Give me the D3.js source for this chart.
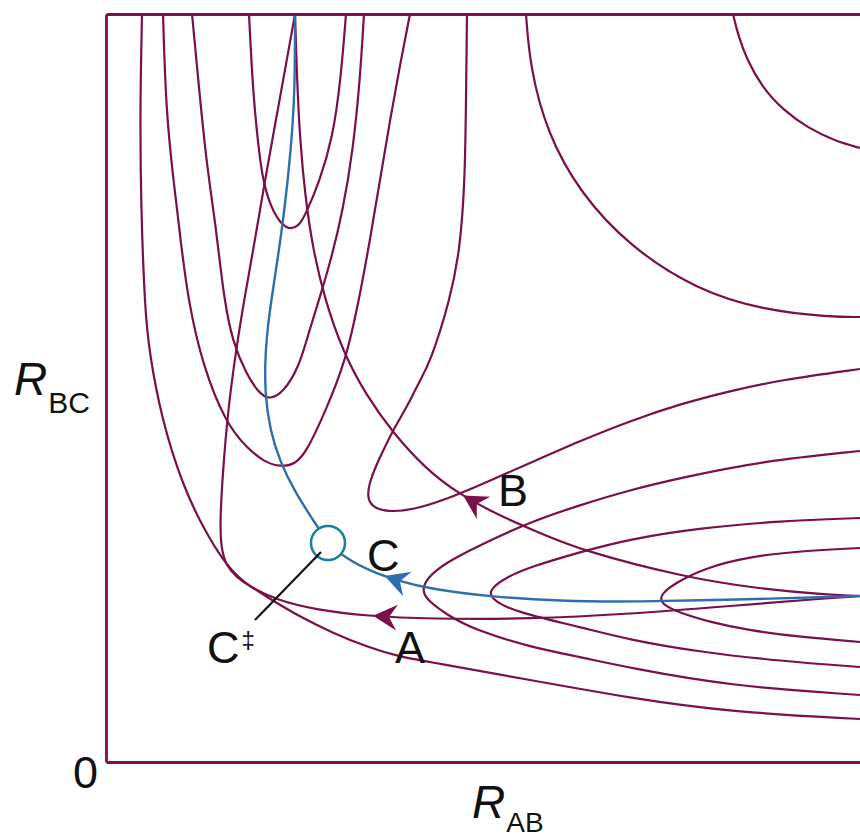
<!DOCTYPE html>
<html><head><meta charset="utf-8">
<script src="https://cdn.jsdelivr.net/npm/d3@7"></script>
<style>
html,body{margin:0;padding:0;background:#fff;}
svg{display:block;}
text{font-family:"Liberation Sans",Arial,Helvetica,sans-serif;fill:#111;}
</style></head><body>
<svg id="chart" width="860" height="840"></svg>
<script>
// ---- data: points [R_AB, R_BC] (arbitrary units) ----
const contourOuter = [[3.6,74.8],[3.4,65.2],[3.5,55.2],[3.9,45.2],[4.3,41.2],[5.5,34.5],[7.7,27.5],[10.0,22.9],[11.7,20.2],[13.4,18.2],[16.1,16.5],[19.4,14.5],[22.7,12.9],[26.1,11.5],[29.4,10.5],[32.4,10.0],[42.4,8.2],[52.4,6.4],[62.4,5.0],[75.4,4.3]];
const contourSaddle = [[36.1,74.8],[36.0,66.2],[35.9,58.2],[35.4,51.2],[34.4,46.2],[32.4,39.9],[31.4,38.2],[30.1,35.5],[28.7,33.2],[27.4,30.5],[26.4,28.2],[26.1,26.5],[26.6,25.5],[28.1,25.0],[30.7,25.2],[34.1,26.3],[37.4,27.7],[42.4,29.9],[47.4,32.1],[52.4,34.1],[57.4,35.8],[62.4,37.1],[67.4,38.2],[75.4,39.3]];
const contourU1 = [[14.3,74.8],[14.7,66.9],[15.2,61.9],[15.7,57.9],[16.7,54.9],[18.0,53.2],[19.3,53.5],[20.0,54.9],[21.3,57.9],[22.7,62.5],[23.5,68.5],[24.0,74.8]];
const contourU2 = [[8.6,74.8],[9.2,68.5],[10.0,60.2],[11.0,53.5],[11.8,46.2],[12.7,41.9],[14.0,38.9],[15.2,37.0],[16.3,36.2],[17.7,36.9],[19.3,39.5],[20.2,42.7],[21.3,46.2],[22.5,50.2],[23.7,55.2],[24.7,61.2],[25.4,68.2],[25.8,74.8]];
const contourU3 = [[5.7,74.8],[6.0,65.2],[6.7,58.5],[7.5,51.9],[8.2,46.2],[9.7,39.5],[12.0,33.9],[14.0,31.5],[15.8,30.0],[17.5,29.5],[18.9,29.8],[20.0,30.9],[22.0,35.2],[24.0,40.2],[25.3,46.2],[26.4,52.2],[27.4,58.2],[28.4,64.2],[29.4,69.7],[30.4,74.8]];
const contourExit3 = [[75.4,31.1],[65.7,30.1],[57.4,28.4],[52.4,27.2],[47.4,25.7],[42.4,24.0],[37.4,21.7],[33.9,19.9],[32.1,18.4],[31.6,17.2],[32.1,16.2],[34.1,14.7],[36.9,13.2],[42.4,11.5],[47.4,10.5],[52.4,9.4],[62.4,7.6],[75.4,6.7]];
const contourExit2 = [[75.4,24.4],[67.4,24.1],[59.4,23.4],[52.4,22.3],[47.4,21.0],[42.4,19.5],[39.9,18.4],[38.7,17.5],[38.3,16.8],[39.1,15.9],[41.4,14.9],[47.4,13.5],[52.4,12.2],[59.4,11.0],[67.4,10.1],[75.4,9.5]];
const contourExit1 = [[75.4,21.4],[69.4,21.1],[64.1,20.5],[59.9,19.4],[56.9,17.9],[55.4,16.7],[55.5,15.8],[57.4,14.9],[60.4,14.0],[64.1,13.2],[69.4,12.5],[75.4,12.0]];
const contourPlateau1 = [[42.0,74.8],[42.4,69.5],[44.1,62.9],[47.4,56.9],[52.4,51.5],[59.1,47.2],[65.7,45.2],[72.4,44.5],[75.4,44.5]];
const contourPlateau2 = [[62.7,74.8],[63.2,72.7],[64.1,70.2],[65.6,67.5],[67.7,65.2],[70.2,63.4],[72.9,62.1],[75.4,61.4]];

// trajectories (listed from the top end to the right end; motion runs the other way)
const trajA = [[18.9,74.8],[17.9,69.2],[16.9,63.7],[15.9,58.2],[14.9,52.2],[13.9,46.7],[13.0,41.2],[12.2,35.2],[11.7,29.2],[11.4,24.2],[11.5,21.4],[12.0,19.7],[13.0,18.5],[14.6,17.4],[17.1,16.2],[21.1,15.2],[26.1,14.6],[32.4,14.3],[42.4,14.3],[52.4,14.8],[62.4,15.6],[72.4,16.4],[75.4,16.6]];
const trajB = [[18.9,74.8],[19.1,68.2],[19.4,62.2],[19.9,56.7],[20.7,51.2],[21.9,46.2],[23.7,41.0],[26.0,36.7],[28.7,32.9],[31.9,29.4],[35.1,26.9],[39.4,24.6],[43.4,22.9],[47.4,21.2],[57.7,18.5],[65.4,17.3],[72.4,16.7],[75.4,16.6]];
const trajC = [[18.9,74.8],[18.9,67.2],[18.5,61.2],[17.8,54.7],[17.0,49.2],[16.3,44.7],[15.9,40.7],[15.9,36.7],[16.4,33.2],[17.4,30.0],[18.9,27.0],[20.7,24.2],[22.2,21.9],[23.9,20.4],[26.6,19.0],[29.3,18.1],[32.4,17.3],[38.7,16.5],[45.4,16.1],[52.4,16.0],[65.7,16.3],[75.4,16.6]];
const transitionState = [22.2, 21.9];
const arrowR_AB = [26.7, 35.7, 27.9];          // where the arrowheads of A, B, C sit
const trajNames = ["A", "B", "C"];
const originTick = ["0"];
const axisNames = [["R","BC"],["R","AB"]];

// ---- drawing ----
const svg = d3.select("#chart");
const maroon = "#7b0f4b", blue = "#2d6fae", teal = "#17809c";
const x = d3.scaleLinear().domain([0, 75.4]).range([106, 860]);
const y = d3.scaleLinear().domain([0, 74.8]).range([762, 14]);
const line = d3.line().x(d => x(d[0])).y(d => y(d[1])).curve(d3.curveBasis);

svg.append("defs").append("clipPath").attr("id","clip")
  .append("rect").attr("x", x(0)).attr("y", y(74.8)).attr("width", x(75.4)-x(0)).attr("height", y(0)-y(74.8));

const plot = svg.append("g").attr("clip-path","url(#clip)");
[contourOuter, contourSaddle, contourU1, contourU2, contourU3, contourExit3, contourExit2, contourExit1, contourPlateau1, contourPlateau2, trajA, trajB]
  .forEach(c => plot.append("path").attr("d", line(c)).attr("fill","none").attr("stroke", maroon).attr("stroke-width", 2.2));
const pathC = plot.append("path").attr("d", line(trajC)).attr("fill","none").attr("stroke", blue).attr("stroke-width", 2.4);

// frame via axes
const fr = svg.append("g");
fr.append("g").attr("transform",`translate(${x(0)},0)`).call(d3.axisLeft(y).tickValues([]).tickSizeOuter(0));
fr.append("g").attr("transform",`translate(0,${y(74.8)})`).call(d3.axisTop(x).tickValues([]).tickSizeOuter(0));
fr.append("g").attr("transform",`translate(0,${y(0)})`).call(d3.axisBottom(x).tickValues([]).tickSizeOuter(0));
fr.selectAll(".domain").attr("stroke", maroon).attr("stroke-width", 2.8);

// arrowheads
const trajPaths = plot.selectAll("path").nodes();
function arrowOn(node, tx, color) {
  const total = node.getTotalLength();
  let best = 0, bd = Infinity;
  for (let l = 0; l <= total; l += 0.5) {
    const p = node.getPointAtLength(l);
    const d = Math.abs(p.x - tx);
    if (d < bd) { bd = d; best = l; }
  }
  const p = node.getPointAtLength(best);
  const p0 = node.getPointAtLength(Math.max(0, best - 3));
  const p1 = node.getPointAtLength(Math.min(total, best + 3));
  const ang = Math.atan2(p0.y - p1.y, p0.x - p1.x) * 180 / Math.PI;
  svg.append("path").attr("d","M0,0L-24,-13L-16,0L-24,13Z")
    .attr("transform",`translate(${p.x},${p.y}) rotate(${ang})`).attr("fill", color);
}
arrowOn(trajPaths[10], x(arrowR_AB[0]), maroon);
arrowOn(trajPaths[11], x(arrowR_AB[1]), maroon);
arrowOn(pathC.node(), x(arrowR_AB[2]), blue);

// transition state marker
svg.append("circle").attr("cx", x(transitionState[0])).attr("cy", y(transitionState[1])).attr("r", 17)
  .attr("fill","#fff").attr("stroke", teal).attr("stroke-width", 2.5);
svg.append("line").attr("x1", x(transitionState[0]) - 7).attr("y1", y(transitionState[1]) + 9)
  .attr("x2", x(14.9)).attr("y2", y(14.2)).attr("stroke","#111").attr("stroke-width", 2.2);

// labels
const fs = 45;
svg.append("text").attr("x", x(28.9)).attr("y", y(9.9)).attr("font-size", fs).text(trajNames[0]);
svg.append("text").attr("x", x(39.2)).attr("y", y(25.6)).attr("font-size", fs).text(trajNames[1]);
svg.append("text").attr("x", x(26.1)).attr("y", y(19.1)).attr("font-size", fs).text(trajNames[2]);
const ts = svg.append("text").attr("x", x(10.1)).attr("y", y(9.9)).attr("font-size", fs);
ts.append("tspan").text("C");
ts.append("tspan").attr("font-size", 24).attr("dy", -15).attr("dx", 2).text("\u2021");

svg.append("text").attr("x", x(0) - 8).attr("y", y(0) + 26).attr("text-anchor","end").attr("font-size", fs).text(originTick[0]);

const lb = svg.append("text").attr("x", 14).attr("y", 395).attr("font-size", 46);
lb.append("tspan").attr("font-style","italic").text(axisNames[0][0]);
lb.append("tspan").attr("font-size", 30).attr("dy", 18).attr("dx", 1).text(axisNames[0][1]);
const la = svg.append("text").attr("x", 472).attr("y", 818).attr("font-size", 46);
la.append("tspan").attr("font-style","italic").text(axisNames[1][0]);
la.append("tspan").attr("font-size", 28).attr("dy", 14).attr("dx", 1).text(axisNames[1][1]);
</script></body></html>
